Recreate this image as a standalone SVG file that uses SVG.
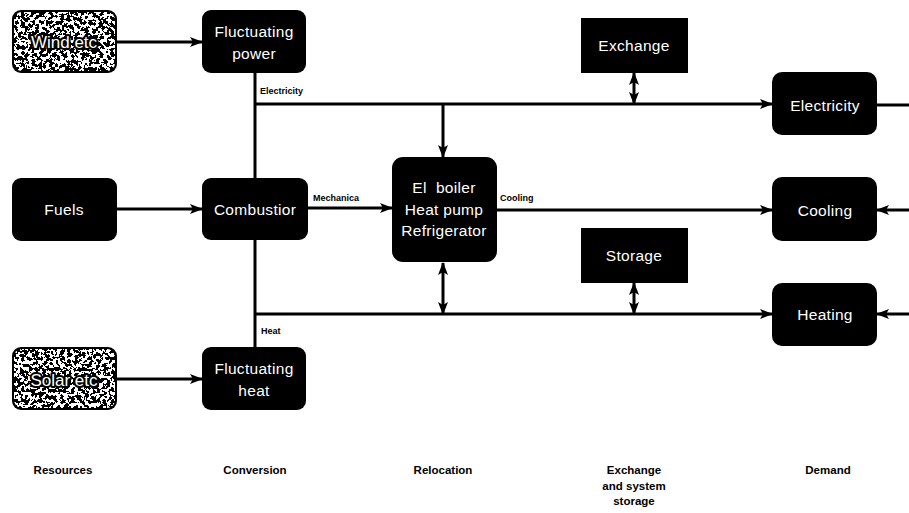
<svg xmlns="http://www.w3.org/2000/svg" width="909" height="513" viewBox="0 0 909 513">
<style>
.box{fill:#000;}
.nt{fill:#fff;font-family:"Liberation Sans",Arial,sans-serif;font-size:15.5px;text-anchor:middle;letter-spacing:0.3px;}
.nt2{fill:#fff;stroke:#000;stroke-width:4px;stroke-linejoin:round;paint-order:stroke;font-family:"Liberation Sans",Arial,sans-serif;font-size:17px;text-anchor:middle;}
.lbl{fill:#000;font-family:"Liberation Sans",Arial,sans-serif;font-size:9px;font-weight:bold;}
.cat{fill:#000;font-family:"Liberation Sans",Arial,sans-serif;font-size:11.5px;font-weight:bold;text-anchor:middle;}
.ln{stroke:#000;stroke-width:3;fill:none;}
</style>
<defs>
<marker id="ah" markerUnits="userSpaceOnUse" markerWidth="14" markerHeight="12" refX="12" refY="5" orient="auto-start-reverse">
<path d="M0,0 L13,5 L0,10 L3,5 z" fill="#000"/>
</marker>
<filter id="noise" x="0" y="0" width="100%" height="100%">
<feTurbulence type="fractalNoise" baseFrequency="0.28" numOctaves="3" seed="7" result="t"/>
<feColorMatrix in="t" type="matrix" values="0 0 0 0 1  0 0 0 0 1  0 0 0 0 1  1.8 0 0 0 -0.4" result="m"/>
<feComponentTransfer in="m" result="d"><feFuncA type="discrete" tableValues="0 0 1 1"/></feComponentTransfer>
<feComposite in="d" in2="SourceGraphic" operator="in"/>
</filter>
</defs>

<g id="connectors">
<line class="ln" x1="117" y1="42" x2="202" y2="42" marker-end="url(#ah)"/>
<line class="ln" x1="117" y1="209" x2="202" y2="209" marker-end="url(#ah)"/>
<line class="ln" x1="117" y1="379" x2="202" y2="379" marker-end="url(#ah)"/>
<line class="ln" x1="255" y1="72" x2="255" y2="348"/>
<line class="ln" x1="254" y1="104" x2="772" y2="104" marker-end="url(#ah)"/>
<line class="ln" x1="308" y1="208" x2="392" y2="208" marker-end="url(#ah)"/>
<line class="ln" x1="497" y1="210" x2="772" y2="210" marker-end="url(#ah)"/>
<line class="ln" x1="254" y1="314" x2="772" y2="314" marker-end="url(#ah)"/>
<line class="ln" x1="443" y1="104" x2="443" y2="157" marker-end="url(#ah)"/>
<line class="ln" x1="443" y1="263" x2="443" y2="314" marker-start="url(#ah)" marker-end="url(#ah)"/>
<line class="ln" x1="634" y1="73" x2="634" y2="104" marker-start="url(#ah)" marker-end="url(#ah)"/>
<line class="ln" x1="634" y1="283" x2="634" y2="314" marker-start="url(#ah)" marker-end="url(#ah)"/>
<line class="ln" x1="877" y1="105" x2="909" y2="105"/>
<line class="ln" x1="909" y1="210" x2="877" y2="210" marker-end="url(#ah)"/>
<line class="ln" x1="909" y1="314" x2="877" y2="314" marker-end="url(#ah)"/>
</g>

<g id="wind">
<rect class="box" x="12" y="10" width="105" height="63" rx="9"/>
<rect x="14" y="12" width="101" height="59" rx="8" fill="#fff" filter="url(#noise)"/>
<text class="nt2" x="64" y="48">Wind etc</text>
</g>
<g id="fuels">
<rect class="box" x="12" y="178" width="105" height="63" rx="9"/>
<text class="nt" x="64" y="215">Fuels</text>
</g>
<g id="solar">
<rect class="box" x="12" y="347" width="105" height="63" rx="9"/>
<rect x="14" y="349" width="101" height="59" rx="8" fill="#fff" filter="url(#noise)"/>
<text class="nt2" x="64" y="386">Solar etc</text>
</g>
<g id="fluct-power">
<rect class="box" x="202" y="10" width="104" height="63" rx="9"/>
<text class="nt" x="254" y="37">Fluctuating</text>
<text class="nt" x="254" y="59">power</text>
</g>
<g id="combustion">
<rect class="box" x="202" y="178" width="106" height="62" rx="9"/>
<text class="nt" x="255" y="215">Combustior</text>
</g>
<g id="fluct-heat">
<rect class="box" x="202" y="347" width="104" height="63" rx="9"/>
<text class="nt" x="254" y="374">Fluctuating</text>
<text class="nt" x="254" y="396">heat</text>
</g>
<g id="relocation">
<rect class="box" x="392" y="157" width="105" height="105" rx="11"/>
<text class="nt" x="444" y="193" xml:space="preserve">El  boiler</text>
<text class="nt" x="444" y="215">Heat pump</text>
<text class="nt" x="444" y="236">Refrigerator</text>
</g>
<g id="exchange">
<rect class="box" x="581" y="18" width="107" height="55"/>
<text class="nt" x="634" y="51">Exchange</text>
</g>
<g id="storage">
<rect class="box" x="581" y="228" width="107" height="55"/>
<text class="nt" x="634" y="261">Storage</text>
</g>
<g id="electricity">
<rect class="box" x="772" y="72" width="105" height="63" rx="10"/>
<text class="nt" x="825" y="111">Electricity</text>
</g>
<g id="cooling">
<rect class="box" x="772" y="177" width="105" height="64" rx="10"/>
<text class="nt" x="825" y="216">Cooling</text>
</g>
<g id="heating">
<rect class="box" x="772" y="283" width="105" height="63" rx="10"/>
<text class="nt" x="825" y="320">Heating</text>
</g>

<g id="labels">
<text class="lbl" x="260" y="94">Electricity</text>
<text class="lbl" x="313" y="201">Mechanica</text>
<text class="lbl" x="500" y="201">Cooling</text>
<text class="lbl" x="261" y="334">Heat</text>
<text class="cat" x="63" y="474">Resources</text>
<text class="cat" x="255" y="474">Conversion</text>
<text class="cat" x="443" y="474">Relocation</text>
<text class="cat" x="634" y="474">Exchange</text>
<text class="cat" x="634" y="490">and system</text>
<text class="cat" x="634" y="505">storage</text>
<text class="cat" x="828" y="474">Demand</text>
</g>
</svg>
